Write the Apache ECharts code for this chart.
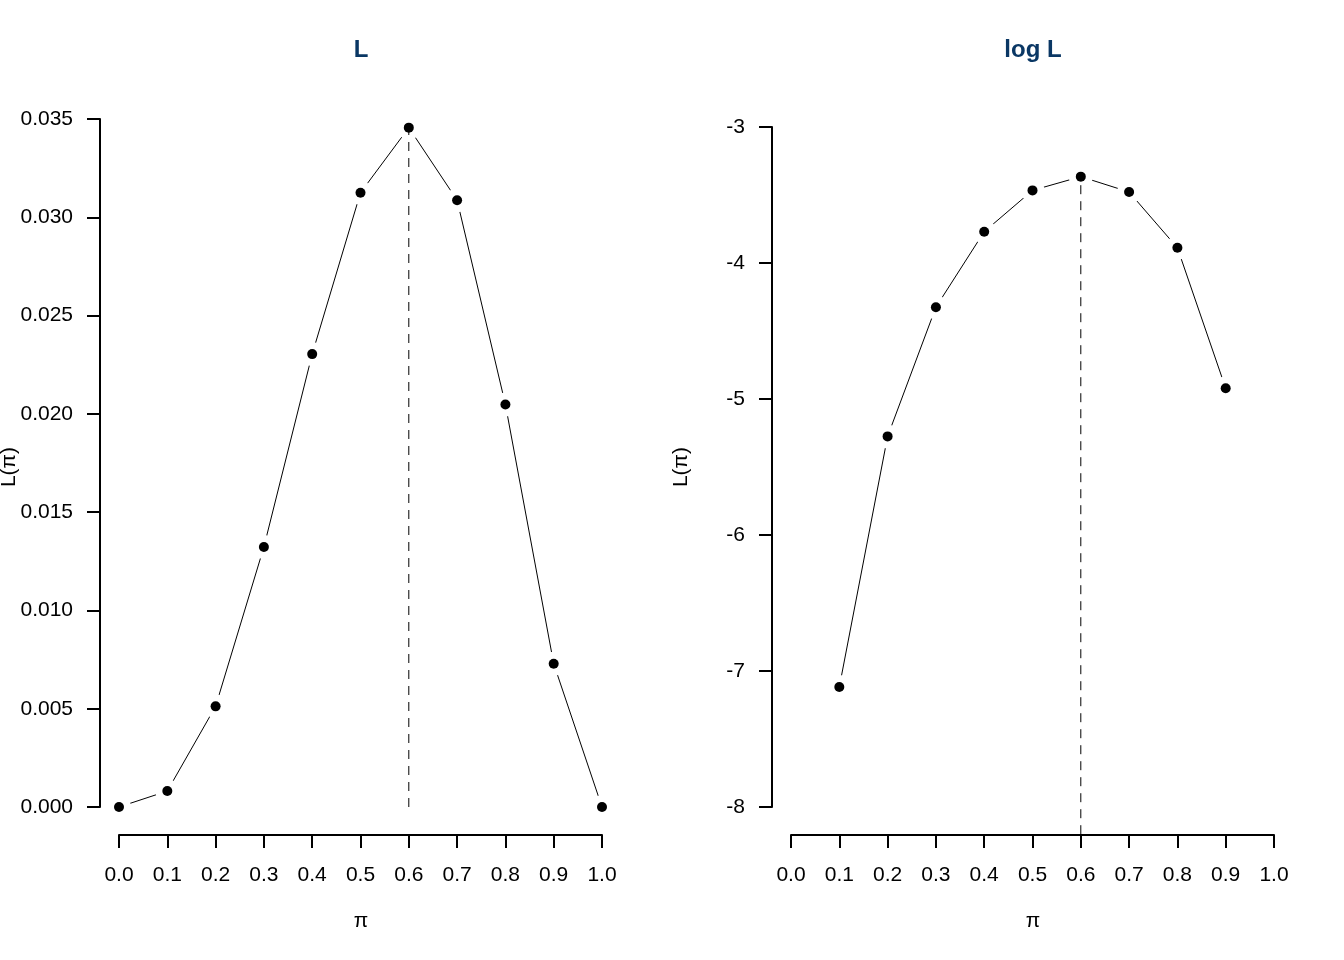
<!DOCTYPE html>
<html>
<head>
<meta charset="utf-8">
<title>L and log L</title>
<script src="https://cdn.jsdelivr.net/npm/echarts@6/dist/echarts.min.js"></script>
<style>
  html, body { margin: 0; padding: 0; background: #fff; }
  #chart { width: 1344px; height: 960px; }
</style>
</head>
<body>
<div id="chart"></div>
<script>
// values
const piValues = [0.0, 0.1, 0.2, 0.3, 0.4, 0.5, 0.6, 0.7, 0.8, 0.9, 1.0]
const likelihood = [0, 0.00081, 0.00512, 0.01323, 0.02304, 0.03125, 0.03456, 0.03087, 0.02048, 0.00729, 0]
const logLikelihood = [null, -7.118, -5.275, -4.325, -3.770, -3.466, -3.365, -3.478, -3.888, -4.921, null]

const xTicks = { min: 0, max: 1, interval: 0.1 }
const yTicksL = { min: 0, max: 0.035, interval: 0.005 }
const yTicksLog = { min: -8, max: -3, interval: 1 }
const logFloor = -8.2 // bottom of the plotting region in the log panel

const font = "'Liberation Sans', Arial, Helvetica, sans-serif"
const titleColor = '#0a3764'

const pairs = (xs, ys) => xs.map((x, i) => [x, ys[i]]).filter((p) => p[1] !== null)

const peakOf = (xs, ys) => {
  let best = 0
  ys.forEach((v, i) => {
    if (v !== null && v > ys[best]) best = i
  })
  return [xs[best], ys[best]]
}

const buildXAxis = (gridIndex) => ({
  type: 'value',
  gridIndex,
  min: xTicks.min,
  max: xTicks.max,
  interval: xTicks.interval,
  offset: 28,
  axisLine: { show: true, onZero: false, lineStyle: { color: '#000', width: 2 } },
  axisTick: { show: true, length: 13, lineStyle: { color: '#000', width: 2 } },
  axisLabel: {
    margin: 30,
    color: '#000',
    fontSize: 21,
    fontFamily: font,
    formatter: (v) => v.toFixed(1)
  },
  splitLine: { show: false }
})

const buildYAxis = (gridIndex, ticks, digits) => ({
  type: 'value',
  gridIndex,
  min: ticks.min,
  max: ticks.max,
  interval: ticks.interval,
  offset: 19,
  axisLine: { show: true, onZero: false, lineStyle: { color: '#000', width: 2 } },
  axisTick: { show: true, length: 13, lineStyle: { color: '#000', width: 2 } },
  axisLabel: {
    margin: 27,
    color: '#000',
    fontSize: 21,
    fontFamily: font,
    formatter: (v) => v.toFixed(digits)
  },
  splitLine: { show: false }
})

const buildSeries = (idx, points, floor) => {
  const peak = peakOf(points.map((p) => p[0]), points.map((p) => p[1]))
  return [
    {
      type: 'line',
      xAxisIndex: idx,
      yAxisIndex: idx,
      data: points,
      showSymbol: false,
      symbol: 'none',
      clip: false,
      z: 1,
      lineStyle: { color: '#000', width: 1, opacity: 1 }
    },
    {
      // white halo gives the gap between lines and points (type = "b")
      type: 'scatter',
      xAxisIndex: idx,
      yAxisIndex: idx,
      data: points,
      symbolSize: 24,
      clip: false,
      z: 2,
      itemStyle: { color: '#fff', opacity: 1 }
    },
    {
      type: 'scatter',
      xAxisIndex: idx,
      yAxisIndex: idx,
      data: points,
      symbolSize: 10,
      clip: false,
      z: 3,
      itemStyle: { color: '#000', opacity: 1 }
    },
    {
      type: 'line',
      xAxisIndex: idx,
      yAxisIndex: idx,
      data: [[peak[0], floor], peak],
      symbol: 'none',
      clip: false,
      z: 4,
      lineStyle: { color: '#000', width: 1, opacity: 1, type: [9, 7] }
    }
  ]
}

const textItem = (x, y, text, extra) => ({
  type: 'text',
  x,
  y,
  z: 10,
  ...extra,
  style: {
    text,
    align: 'center',
    verticalAlign: 'middle',
    fontFamily: font,
    fontSize: 21,
    fill: '#000',
    ...(extra && extra.style)
  }
})

const chart = echarts.init(document.getElementById('chart'), null, { renderer: 'canvas' })

chart.setOption({
  animation: false,
  backgroundColor: '#fff',
  grid: [
    { left: 119, top: 119, width: 483, height: 688 },
    { left: 791, top: 127, width: 483, height: 680 }
  ],
  xAxis: [buildXAxis(0), buildXAxis(1)],
  yAxis: [buildYAxis(0, yTicksL, 3), buildYAxis(1, yTicksLog, 0)],
  series: [
    ...buildSeries(0, pairs(piValues, likelihood), yTicksL.min),
    ...buildSeries(1, pairs(piValues, logLikelihood), logFloor)
  ],
  graphic: [
    textItem(361, 50, 'L', { style: { fontSize: 24, fontWeight: 'bold', fill: titleColor } }),
    textItem(1033, 50, 'log L', { style: { fontSize: 24, fontWeight: 'bold', fill: titleColor } }),
    textItem(361, 921, 'π'),
    textItem(1033, 921, 'π'),
    textItem(9, 467, 'L(π)', { rotation: Math.PI / 2 }),
    textItem(681, 467, 'L(π)', { rotation: Math.PI / 2 })
  ]
})
</script>
</body>
</html>
